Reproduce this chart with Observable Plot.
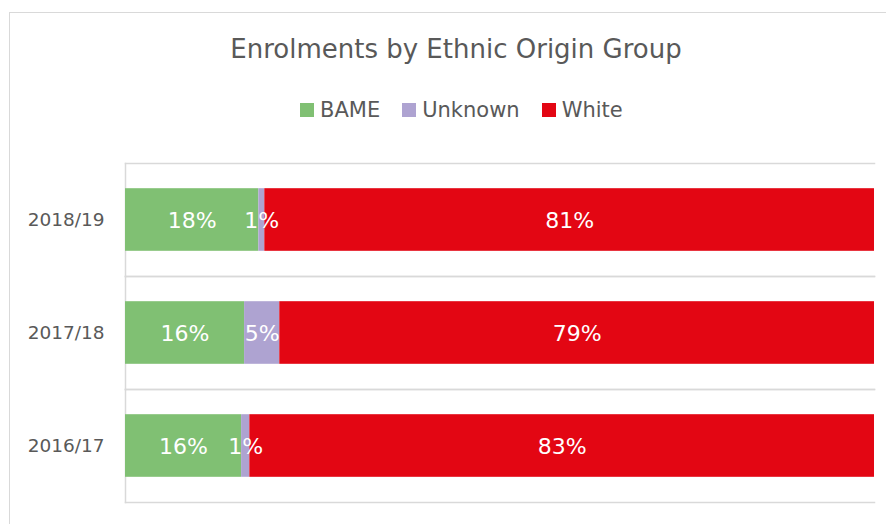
<!DOCTYPE html>
<html>
<head>
<meta charset="utf-8">
<script src="https://cdn.jsdelivr.net/npm/d3@7"></script>
<script src="https://cdn.jsdelivr.net/npm/@observablehq/plot@0.6"></script>
<style>
  html, body { margin: 0; padding: 0; background: #fff; }
  body { width: 886px; height: 524px; position: relative; overflow: hidden;
         font-family: "DejaVu Sans", sans-serif; color: #595959; }
  #frame { position: absolute; left: 9px; top: 12px; width: 1000px; height: 1000px;
           border-left: 1.5px solid #d9d9d9; border-top: 1.5px solid #d9d9d9; }
  #title { position: absolute; left: 9px; width: 894px; top: 33px; text-align: center;
           font-size: 26px; line-height: 32px; }
  #legend { position: absolute; left: 300px; top: 96px; display: flex; align-items: center;
            font-size: 21px; line-height: 28px; }
  .item { display: flex; align-items: center; margin-right: 22px; }
  .sw { width: 14px; height: 14px; margin-right: 6px; }
  #chart { position: absolute; left: 0; top: 140px; }
</style>
</head>
<body>
<div id="frame"></div>
<div id="title">Enrolments by Ethnic Origin Group</div>
<div id="legend"></div>
<div id="chart"></div>
<script>
const years = ["2018/19", "2017/18", "2016/17"];
const groups = ["BAME", "Unknown", "White"];
const colors = ["#80c073", "#aea3d1", "#e30613"];
const bame = [17.8, 15.9, 15.5];
const unknown = [0.8, 4.7, 1.1];
const white = [81.4, 79.4, 83.4];

const series = [bame, unknown, white];
const rows = [];
years.forEach((y, i) => groups.forEach((g, j) => rows.push({year: y, group: g, value: series[j][i]})));

const legend = document.getElementById("legend");
groups.forEach((g, j) => {
  const it = document.createElement("div");
  it.className = "item";
  it.innerHTML = `<div class="sw" style="background:${colors[j]}"></div><span>${g}</span>`;
  legend.appendChild(it);
});

const chart = Plot.plot({
  width: 886,
  height: 384,
  marginTop: 22,
  marginBottom: 22,
  marginLeft: 125,
  marginRight: 12,
  style: {fontFamily: '"DejaVu Sans", sans-serif', fontSize: "18.5px", color: "#595959", background: "transparent"},
  x: {domain: [0, 100], axis: null},
  fy: {domain: years, padding: 0, axis: "left", tickSize: 0, tickPadding: 21, label: null},
  color: {domain: groups, range: colors},
  marks: [
    Plot.frame({anchor: "top", stroke: "#d9d9d9", strokeWidth: 1.5}),
    Plot.frame({anchor: "bottom", stroke: "#d9d9d9", strokeWidth: 1.5}),
    Plot.frame({anchor: "left", stroke: "#d9d9d9", strokeWidth: 1.5}),
    Plot.barX(rows, Plot.stackX({x: "value", fy: "year", z: "group", fill: "group", order: groups, insetTop: 25.2, insetBottom: 25.2})),
    Plot.text(rows, Plot.stackX({x: "value", fy: "year", z: "group", order: groups, text: d => Math.round(d.value) + "%", fill: "white", fontSize: 22, dy: 1}))
  ]
});
document.getElementById("chart").appendChild(chart);
</script>
</body>
</html>
